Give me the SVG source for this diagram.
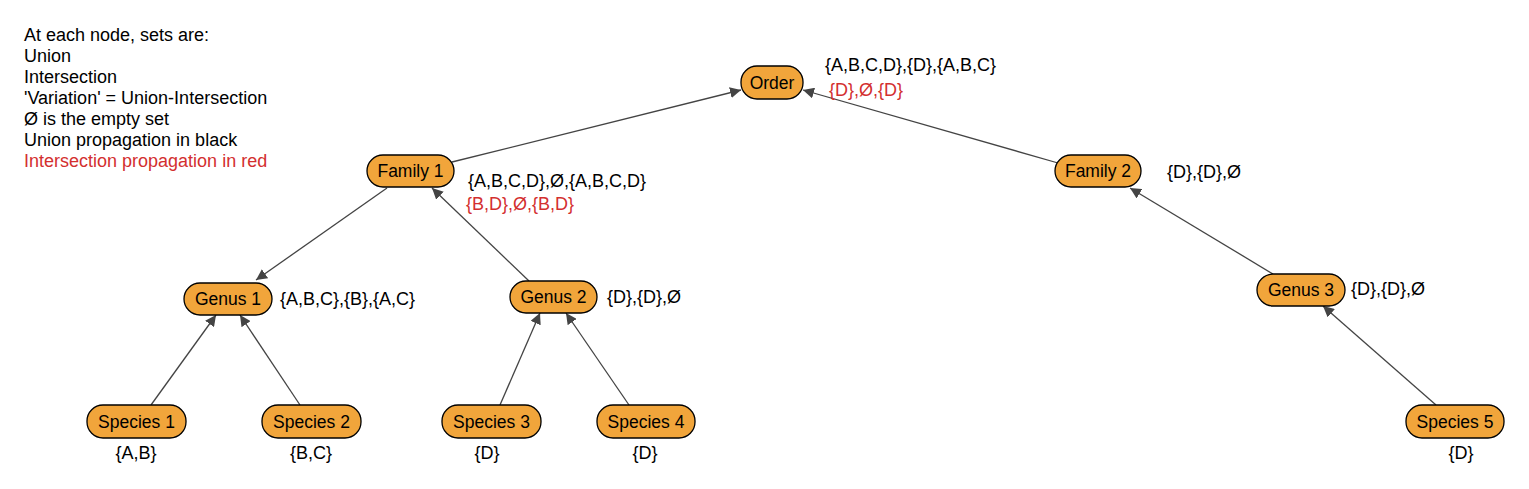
<svg xmlns="http://www.w3.org/2000/svg" width="1529" height="489" viewBox="0 0 1529 489">
<style>
text{font-family:"Liberation Sans",Arial,sans-serif;font-size:18px;fill:#000}
.red{fill:#d32f2f}
.node rect{fill:#f1a53b;stroke:#000;stroke-width:1.3}
.node text{text-anchor:middle;font-size:17.5px}
.mid{text-anchor:middle}
.edge{stroke:#444;stroke-width:1.3;fill:none;marker-end:url(#arr)}
</style>
<defs>
<marker id="arr" viewBox="0 0 10 10" refX="10" refY="5" markerWidth="11" markerHeight="11" markerUnits="userSpaceOnUse" orient="auto">
<path d="M0,0 L10,5 L0,10 z" fill="#444"/>
</marker>
</defs>
<rect width="1529" height="489" fill="#fff"/>
<g id="legend">
<text x="24" y="41">At each node, sets are:</text>
<text x="24" y="62">Union</text>
<text x="24" y="83">Intersection</text>
<text x="24" y="104">'Variation' = Union-Intersection</text>
<text x="24" y="125">Ø is the empty set</text>
<text x="24" y="146">Union propagation in black</text>
<text x="24" y="167" class="red">Intersection propagation in red</text>
</g>
<g id="connectors">
<line class="edge" x1="452" y1="162" x2="741" y2="90"/>
<line class="edge" x1="1058" y1="163" x2="803" y2="90"/>
<line class="edge" x1="387" y1="188" x2="256" y2="280"/>
<line class="edge" x1="529" y1="281" x2="432" y2="188"/>
<line class="edge" x1="1273" y1="274" x2="1130" y2="188"/>
<line class="edge" x1="151" y1="405" x2="216" y2="315"/>
<line class="edge" x1="300" y1="405" x2="240" y2="315"/>
<line class="edge" x1="500" y1="405" x2="540" y2="313"/>
<line class="edge" x1="629" y1="405" x2="566" y2="313"/>
<line class="edge" x1="1436" y1="405" x2="1323" y2="306"/>
</g>
<g id="order" class="node">
<rect x="741" y="66" width="62" height="33" rx="16"/>
<text x="772" y="89">Order</text>
</g>
<text x="825" y="71">{A,B,C,D},{D},{A,B,C}</text>
<text x="829" y="96" class="red">{D},Ø,{D}</text>
<g id="family1" class="node">
<rect x="367" y="155" width="87" height="32" rx="16"/>
<text x="410.5" y="177">Family 1</text>
</g>
<text x="468" y="187">{A,B,C,D},Ø,{A,B,C,D}</text>
<text x="466" y="210" class="red">{B,D},Ø,{B,D}</text>
<g id="family2" class="node">
<rect x="1055" y="155" width="86" height="32" rx="16"/>
<text x="1098" y="177">Family 2</text>
</g>
<text x="1167" y="178">{D},{D},Ø</text>
<g id="genus1" class="node">
<rect x="184" y="283" width="88" height="32" rx="16"/>
<text x="228" y="305">Genus 1</text>
</g>
<text x="280" y="305">{A,B,C},{B},{A,C}</text>
<g id="genus2" class="node">
<rect x="510" y="281" width="87" height="32" rx="16"/>
<text x="553.5" y="303">Genus 2</text>
</g>
<text x="607" y="303">{D},{D},Ø</text>
<g id="genus3" class="node">
<rect x="1257" y="274" width="88" height="32" rx="16"/>
<text x="1301" y="296">Genus 3</text>
</g>
<text x="1351" y="295">{D},{D},Ø</text>
<g id="species1" class="node">
<rect x="87" y="405" width="99" height="33" rx="16"/>
<text x="136.5" y="428">Species 1</text>
</g>
<text x="136" y="459" class="mid">{A,B}</text>
<g id="species2" class="node">
<rect x="262" y="405" width="99" height="33" rx="16"/>
<text x="311.5" y="428">Species 2</text>
</g>
<text x="311" y="459" class="mid">{B,C}</text>
<g id="species3" class="node">
<rect x="442" y="405" width="99" height="33" rx="16"/>
<text x="491.5" y="428">Species 3</text>
</g>
<text x="487" y="459" class="mid">{D}</text>
<g id="species4" class="node">
<rect x="597" y="405" width="98" height="33" rx="16"/>
<text x="646" y="428">Species 4</text>
</g>
<text x="645" y="459" class="mid">{D}</text>
<g id="species5" class="node">
<rect x="1406" y="405" width="98" height="33" rx="16"/>
<text x="1455" y="428">Species 5</text>
</g>
<text x="1461" y="459" class="mid">{D}</text>
</svg>
